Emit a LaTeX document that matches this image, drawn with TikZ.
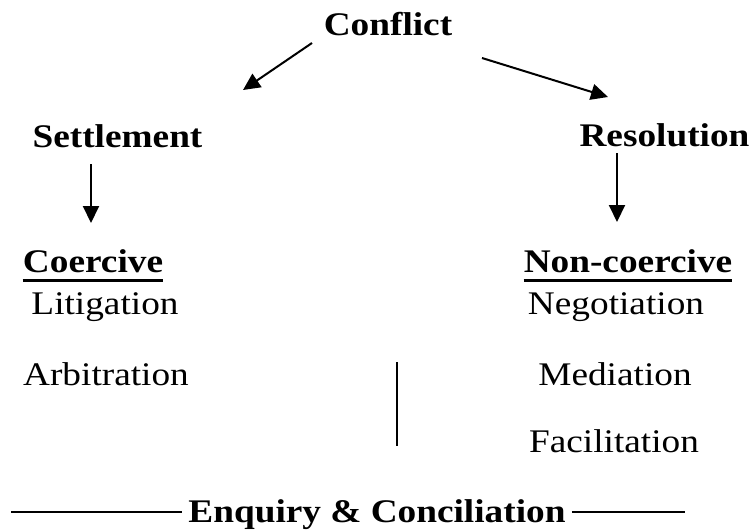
\documentclass[tikz,border=0pt]{standalone}
\usepackage{fontspec}
\setmainfont{Liberation Serif}[FakeStretch=1.13]
\usetikzlibrary{arrows.meta}
\begin{document}
\begin{tikzpicture}[x=1pt,y=-1pt,
  every node/.style={inner sep=0pt,anchor=base,font=\fontsize{33}{40}\selectfont},
  head/.style={font=\fontsize{33}{40}\selectfont\bfseries},
  item/.style={font=\fontsize{33}{40}\selectfont},
  flow/.style={line width=2pt,-{Triangle[length=17pt,width=16pt]}},
  rule/.style={line width=2pt},
  uline/.style={line width=3pt}]
\useasboundingbox (0,0) rectangle (752,530);

% top level and the two approaches
\node[head] (conflict) at (388,35) {Conflict};
\node[head] (settle) at (117.5,147) {Settlement};
\node[head] (resol) at (664.5,146) {Resolution};

% column headings
\node[head] (coer) at (93,272) {Coercive};
\node[head] (noncoer) at (628,272) {Non-coercive};

% methods
\node[item] (litig) at (105,314) {Litigation};
\node[item] (arbit) at (106,385) {Arbitration};
\node[item] (negot) at (616,314) {Negotiation};
\node[item] (media) at (615,385) {Mediation};
\node[item] (facil) at (614,452) {Facilitation};

% bottom label
\node[head] (enq) at (377,522) {Enquiry \& Conciliation};

% arrow end points
\coordinate (cl) at (312,43);
\coordinate (sl) at (243,90);
\coordinate (cr) at (482,58);
\coordinate (rr) at (608,97);
\coordinate (sd) at (91,164);
\coordinate (cd) at (91,223);
\coordinate (rd) at (617,153);
\coordinate (nd) at (617,222);

\draw[flow] (cl) -- (sl);
\draw[flow] (cr) -- (rr);
\draw[flow] (sd) -- (cd);
\draw[flow] (rd) -- (nd);

% underlines of the column headings
\draw[uline] ([yshift=-8pt]coer.base west) -- ([yshift=-8pt]coer.base east);
\draw[uline] ([yshift=-8pt]noncoer.base west) -- ([yshift=-8pt]noncoer.base east);

% divider between the columns
\coordinate (dtop) at (397,362);
\coordinate (dbot) at (397,446);
\draw[rule] (dtop) -- (dbot);

% rules either side of the bottom label
\coordinate (la) at (11,512);
\coordinate (rb) at (685,512);
\draw[rule] (la) -- ([xshift=-6pt,yshift=10pt]enq.base west);
\draw[rule] ([xshift=6pt,yshift=10pt]enq.base east) -- (rb);
\end{tikzpicture}
\end{document}
